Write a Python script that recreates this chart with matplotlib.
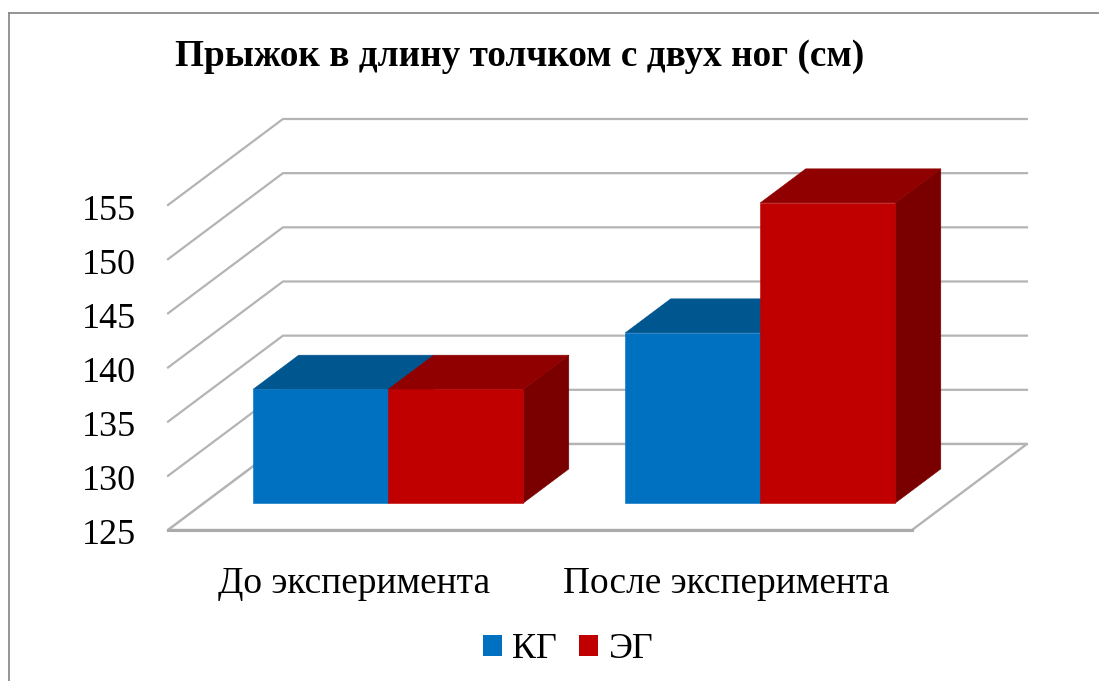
import matplotlib
matplotlib.use('Agg')
import matplotlib.pyplot as plt
from matplotlib.lines import Line2D
from matplotlib.patches import Patch, Polygon
from matplotlib.transforms import ScaledTranslation

plt.rcParams['font.family'] = ['Liberation Serif', 'DejaVu Serif']

categories = ['До эксперимента', 'После эксперимента']
series_names = ['КГ', 'ЭГ']
kg = [135.5, 140.7]
eg = [135.5, 152.7]
y_ticks = [125, 130, 135, 140, 145, 150, 155]

W, H = 1099, 681
fig = plt.figure(figsize=(W / 100, H / 100), dpi=100, facecolor='white')
# axes = front plane of the fake 3d box
ax = fig.add_axes([168 / W, 1 - 530 / H, 744 / W, 325 / H])
ax.set_xlim(-0.5, 1.5)
ax.set_ylim(125, 155)

# oblique depth, in data units for depth = 1
DX = 0.309
DY = 7.94
BAR_W = 0.363
D0, D1 = 0.314, 0.71
GRID = '#b4b4b4'


def proj(x, v, d):
    return (x + d * DX, v + d * DY)


def poly(pts, color, z):
    ax.add_patch(Polygon(pts, closed=True, facecolor=color, edgecolor=color, lw=0.4,
                         zorder=z, clip_on=False))


# walls
for v in y_ticks:
    a = proj(-0.5, v, 0)
    b = proj(-0.5, v, 1)
    c = proj(1.5, v, 1)
    ax.plot([a[0], b[0], c[0]], [a[1], b[1], c[1]], color=GRID, lw=1.6, zorder=1, clip_on=False)

# floor
floor = [proj(-0.5, 125, 0), proj(1.5, 125, 0), proj(1.5, 125, 1), proj(-0.5, 125, 1)]
ax.add_patch(Polygon(floor, closed=True, facecolor='white', edgecolor=GRID, lw=1.7, zorder=2,
                     clip_on=False))
ax.plot([-0.5, 1.5], [125, 125], color='#aaaaaa', lw=2.2, zorder=2, clip_on=False)


def bar3d(x0, v, front, top, side, z):
    x1 = x0 + BAR_W
    poly([proj(x1, 125, D0), proj(x1, 125, D1), proj(x1, v, D1), proj(x1, v, D0)], side, z)
    poly([proj(x0, v, D0), proj(x1, v, D0), proj(x1, v, D1), proj(x0, v, D1)], top, z)
    poly([proj(x0, 125, D0), proj(x1, 125, D0), proj(x1, v, D0), proj(x0, v, D0)], front, z + 0.1)


for i in range(len(categories)):
    bar3d(i - BAR_W - 0.005, kg[i], '#0070c0', '#00568f', '#004a7c', 3 + i)
    bar3d(i - 0.005, eg[i], '#c00000', '#900000', '#7a0000', 3.5 + i)

ax.set_xticks(range(len(categories)))
ax.set_xticklabels(categories, fontsize=26.9)
ax.set_yticks(y_ticks)
ax.tick_params(axis='y', labelsize=26, length=0, pad=23)
ax.tick_params(axis='x', length=0, pad=26)
for lbl in ax.get_yticklabels():
    lbl.set_transform(lbl.get_transform() + ScaledTranslation(0, -2 / 100, fig.dpi_scale_trans))
for s in ax.spines.values():
    s.set_visible(False)
ax.patch.set_visible(False)

fig.text(520 / W, 1 - 56 / H, 'Прыжок в длину толчком с двух ног (см)', fontsize=26.8,
         fontweight='bold', ha='center', va='center')

handles = [Patch(facecolor='#0070c0', label=series_names[0]),
           Patch(facecolor='#c00000', label=series_names[1])]
fig.legend(handles=handles, loc='center', bbox_to_anchor=(568 / W, 1 - 650 / H), ncol=2, frameon=False,
           fontsize=26, handlelength=0.52, handleheight=0.52, handletextpad=0.3, columnspacing=0.6)

# chart area border, only left and top are in the picture
fig.add_artist(Line2D([9 / W, 9 / W], [0, 1 - 13 / H], color='#8c8c8c', lw=1.3))
fig.add_artist(Line2D([9 / W, 1], [1 - 13 / H, 1 - 13 / H], color='#8c8c8c', lw=1.3))

fig.savefig('out.png', dpi=100)
